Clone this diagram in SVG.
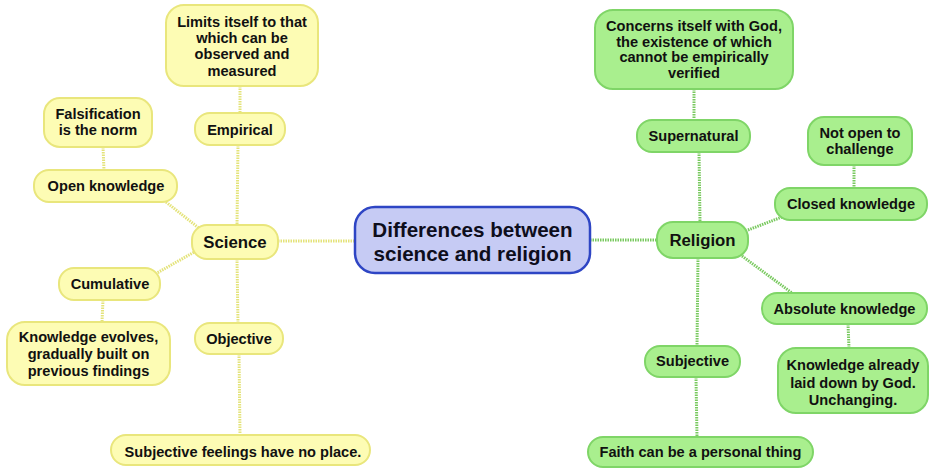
<svg xmlns="http://www.w3.org/2000/svg" width="933" height="468" viewBox="0 0 933 468">
  <style>
    text { font-family: "Liberation Sans", Arial, sans-serif; font-weight: bold; fill: #111111; text-anchor: middle; dominant-baseline: central; }
    .t { font-size: 14.6px; }
    .tm { font-size: 16.8px; }
    .tc { font-size: 20.6px; fill: #0e0e1c; }
    .sci rect { fill: #fdfcb4; stroke: #e9e67c; stroke-width: 2; }
    .rel rect { fill: #a9ef8e; stroke: #7fd567; stroke-width: 2; }
    .center rect { fill: #c6cbf4; stroke: #2e45c4; stroke-width: 2.5; }
    .ls { stroke: #e4e37a; stroke-width: 3; stroke-dasharray: 1.5 1; fill: none; }
    .lr { stroke: #79c95f; stroke-width: 3; stroke-dasharray: 1.5 1; fill: none; }
  </style>
  <rect width="933" height="468" fill="#ffffff"/>

  <g id="connectors">
    <!-- science branch -->
    <line class="ls" x1="278" y1="241" x2="357" y2="241"/>
    <line class="ls" x1="240" y1="86" x2="240" y2="113"/>
    <line class="ls" x1="238" y1="145" x2="237" y2="225"/>
    <line class="ls" x1="103" y1="147" x2="104" y2="170"/>
    <line class="ls" x1="166" y1="202" x2="200" y2="229"/>
    <line class="ls" x1="196" y1="251" x2="157" y2="273"/>
    <line class="ls" x1="103" y1="300" x2="102" y2="322"/>
    <line class="ls" x1="237" y1="259" x2="238" y2="323"/>
    <line class="ls" x1="239" y1="354" x2="240" y2="435"/>
    <!-- religion branch -->
    <line class="lr" x1="590" y1="240" x2="657" y2="240"/>
    <line class="lr" x1="694" y1="89" x2="694" y2="120"/>
    <line class="lr" x1="699" y1="152" x2="700" y2="222"/>
    <line class="lr" x1="854" y1="165" x2="854" y2="188"/>
    <line class="lr" x1="748" y1="230" x2="782" y2="217"/>
    <line class="lr" x1="742" y1="256" x2="792" y2="293"/>
    <line class="lr" x1="848" y1="324" x2="849" y2="348"/>
    <line class="lr" x1="698" y1="258" x2="697" y2="346"/>
    <line class="lr" x1="696" y1="377" x2="697" y2="437"/>
  </g>

  <g id="center" class="center">
    <rect x="355" y="207" width="235" height="66" rx="20"/>
    <text class="tc" x="472.5" y="229">Differences between</text>
    <text class="tc" x="472.5" y="253">science and religion</text>
  </g>

  <!-- science nodes -->
  <g id="science" class="sci">
    <rect x="192" y="225" width="86" height="34" rx="15"/>
    <text class="tm" x="235" y="242">Science</text>
  </g>
  <g id="empirical" class="sci">
    <rect x="195" y="113" width="90" height="32" rx="15"/>
    <text class="t" x="240" y="130">Empirical</text>
  </g>
  <g id="observed" class="sci">
    <rect x="166" y="5" width="152" height="81" rx="18"/>
    <text class="t" x="242" y="22">Limits itself to that</text>
    <text class="t" x="242" y="38">which can be</text>
    <text class="t" x="242" y="54">observed and</text>
    <text class="t" x="242" y="71">measured</text>
  </g>
  <g id="open-knowledge" class="sci">
    <rect x="34" y="170" width="143" height="32" rx="15"/>
    <text class="t" x="106" y="186">Open knowledge</text>
  </g>
  <g id="falsification" class="sci">
    <rect x="44" y="98" width="108" height="49" rx="16"/>
    <text class="t" x="98" y="114">Falsification</text>
    <text class="t" x="98" y="130">is the norm</text>
  </g>
  <g id="cumulative" class="sci">
    <rect x="59" y="268" width="101" height="32" rx="15"/>
    <text class="t" x="110" y="284">Cumulative</text>
  </g>
  <g id="knowledge-evolves" class="sci">
    <rect x="7" y="322" width="163" height="63" rx="18"/>
    <text class="t" x="88.5" y="337">Knowledge evolves,</text>
    <text class="t" x="88.5" y="354">gradually built on</text>
    <text class="t" x="88.5" y="371">previous findings</text>
  </g>
  <g id="objective" class="sci">
    <rect x="195" y="323" width="88" height="31" rx="15"/>
    <text class="t" x="239" y="339">Objective</text>
  </g>
  <g id="no-feelings" class="sci">
    <rect x="111" y="435" width="259" height="30" rx="15"/>
    <text class="t" x="243" y="452">Subjective feelings have no place.</text>
  </g>

  <!-- religion nodes -->
  <g id="religion" class="rel">
    <rect x="657" y="222" width="91" height="36" rx="16"/>
    <text class="tm" x="702.5" y="240">Religion</text>
  </g>
  <g id="supernatural" class="rel">
    <rect x="637" y="120" width="113" height="32" rx="15"/>
    <text class="t" x="693.5" y="136">Supernatural</text>
  </g>
  <g id="concerns-god" class="rel">
    <rect x="595" y="10" width="198" height="79" rx="18"/>
    <text class="t" x="694" y="26">Concerns itself with God,</text>
    <text class="t" x="694" y="42">the existence of which</text>
    <text class="t" x="694" y="57">cannot be empirically</text>
    <text class="t" x="694" y="73">verified</text>
  </g>
  <g id="closed-knowledge" class="rel">
    <rect x="775" y="188" width="152" height="32" rx="15"/>
    <text class="t" x="851" y="204">Closed knowledge</text>
  </g>
  <g id="not-open" class="rel">
    <rect x="808" y="117" width="104" height="48" rx="16"/>
    <text class="t" x="860" y="133">Not open to</text>
    <text class="t" x="860" y="149">challenge</text>
  </g>
  <g id="absolute-knowledge" class="rel">
    <rect x="762" y="293" width="165" height="31" rx="15"/>
    <text class="t" x="844.5" y="309">Absolute knowledge</text>
  </g>
  <g id="laid-down" class="rel">
    <rect x="778" y="348" width="150" height="65" rx="18"/>
    <text class="t" x="853" y="365">Knowledge already</text>
    <text class="t" x="853" y="383">laid down by God.</text>
    <text class="t" x="853" y="400">Unchanging.</text>
  </g>
  <g id="subjective" class="rel">
    <rect x="645" y="346" width="95" height="31" rx="15"/>
    <text class="t" x="692.5" y="361">Subjective</text>
  </g>
  <g id="faith" class="rel">
    <rect x="588" y="437" width="225" height="30" rx="15"/>
    <text class="t" x="700.5" y="452">Faith can be a personal thing</text>
  </g>
</svg>
